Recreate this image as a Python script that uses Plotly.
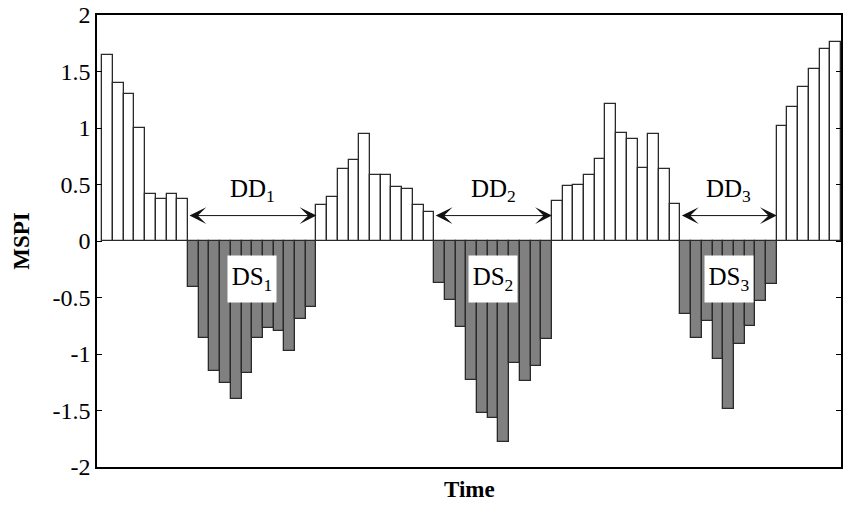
import plotly.graph_objects as go

# MSPI values, one per time step
wet1 = [1.65, 1.40, 1.30, 1.00, 0.42, 0.37, 0.42, 0.37]
dry1 = [-0.41, -0.86, -1.15, -1.26, -1.40, -1.17, -0.86, -0.77, -0.80, -0.97, -0.69, -0.58]
wet2 = [0.32, 0.39, 0.64, 0.72, 0.95, 0.58, 0.58, 0.475, 0.46, 0.32, 0.26]
dry2 = [-0.37, -0.52, -0.76, -1.23, -1.52, -1.57, -1.78, -1.08, -1.24, -1.11, -0.87]
wet3 = [0.35, 0.49, 0.50, 0.58, 0.73, 1.21, 0.96, 0.90, 0.65, 0.95, 0.64, 0.33]
dry3 = [-0.65, -0.86, -0.71, -1.04, -1.49, -0.91, -0.755, -0.535, -0.38]
wet4 = [1.02, 1.19, 1.36, 1.52, 1.70, 1.76]

values = wet1 + dry1 + wet2 + dry2 + wet3 + dry3 + wet4
steps = list(range(1, len(values) + 1))

ytick_vals = [-2, -1.5, -1, -0.5, 0, 0.5, 1, 1.5, 2]
ytick_text = ["-2", "-1.5", "-1", "-0.5", "0", "0.5", "1", "1.5", "2"]

# dry spells: (first step, last step, DD label, DS label)
n1 = len(wet1)
s1 = n1 + 1
e1 = n1 + len(dry1)
s2 = e1 + len(wet2) + 1
e2 = s2 + len(dry2) - 1
s3 = e2 + len(wet3) + 1
e3 = s3 + len(dry3) - 1
spells = [(s1, e1, "DD<sub>1</sub>", "DS<sub>1</sub>"),
          (s2, e2, "DD<sub>2</sub>", "DS<sub>2</sub>"),
          (s3, e3, "DD<sub>3</sub>", "DS<sub>3</sub>")]
arrow_y = 0.225
dd_text_y = 0.45
ds_text_y = -0.335

FONT = "Liberation Serif, Times New Roman, serif"

colors = ["#ffffff" if v > 0 else "#808080" for v in values]

fig = go.Figure()
fig.add_trace(go.Bar(
    x=steps, y=values, width=1.0,
    marker=dict(color=colors, line=dict(color="#2a2a2a", width=1.3)),
    showlegend=False,
))

annotations = []
for s, e, dd, ds in spells:
    annotations.append(dict(
        x=e + 0.5, y=arrow_y, ax=s - 0.5, ay=arrow_y,
        xref="x", yref="y", axref="x", ayref="y",
        text="", showarrow=True, arrowhead=3, startarrowhead=3,
        arrowside="end+start", arrowsize=2.8, arrowwidth=1,
        startarrowsize=2.8,
        arrowcolor="#111111",
    ))
    annotations.append(dict(
        x=(s + e) / 2, y=dd_text_y, xref="x", yref="y",
        text=dd, showarrow=False, font=dict(family=FONT, size=25, color="black"),
    ))
    annotations.append(dict(
        x=(s + e) / 2, y=ds_text_y, xref="x", yref="y",
        text=ds, showarrow=False, bgcolor="white", width=46, height=44,
        font=dict(family=FONT, size=25, color="black"),
    ))

annotations.append(dict(
    x=-0.1025, y=0.5, xref="paper", yref="paper", text="<b>MSPI</b>",
    textangle=-90, showarrow=False, xanchor="center", yanchor="middle",
    font=dict(family=FONT, size=23, color="black"),
))
annotations.append(dict(
    x=0.5, y=-0.05, xref="paper", yref="paper", text="<b>Time</b>",
    showarrow=False, xanchor="center", yanchor="middle",
    font=dict(family=FONT, size=23, color="black"),
))

fig.update_layout(
    width=844, height=507,
    margin=dict(l=97, r=3, t=15, b=40, autoexpand=False),
    paper_bgcolor="white", plot_bgcolor="white",
    bargap=0,
    font=dict(family=FONT, size=24, color="black"),
    annotations=annotations,
    xaxis=dict(range=[0, len(values) + 0.5], showticklabels=False, ticks="",
               showgrid=False, zeroline=False, showline=True, mirror=True,
               linecolor="black", linewidth=1.5),
    yaxis=dict(range=[-2, 2], tickvals=ytick_vals, ticktext=ytick_text,
               ticks="inside", ticklen=5, tickwidth=1, tickcolor="black",
               showgrid=False, zeroline=False, showline=True, mirror="ticks",
               linecolor="black", linewidth=1.5, ticklabeloverflow="allow",
               tickfont=dict(family=FONT, size=24, color="black")),
)

# remove the browser's default page margin so the figure sits at the window corner
fig.write_html(
    "out.html",
    config={"displayModeBar": False},
    post_script="document.body.style.margin='0';document.body.style.overflow='hidden';",
)
